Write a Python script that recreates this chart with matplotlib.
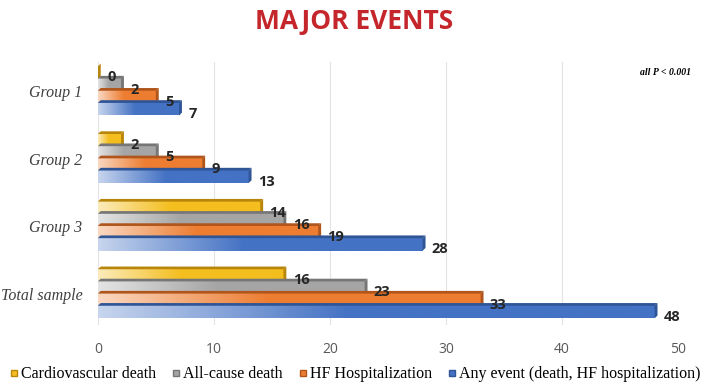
# horizontal 3D-ish bar chart of major events per group
import numpy as np
import matplotlib
matplotlib.use('Agg')
from matplotlib import pyplot as plt
from matplotlib.patches import Polygon
from matplotlib.lines import Line2D
from matplotlib.colors import to_rgb

groups = ['Group 1', 'Group 2', 'Group 3', 'Total sample']
series = ['Cardiovascular death', 'All-cause death', 'HF Hospitalization',
          'Any event (death, HF hospitalization)']
cv_death = [0, 2, 14, 16]
all_death = [2, 5, 16, 23]
hf_hosp = [5, 9, 19, 33]
any_event = [7, 13, 28, 48]

colors = ['#F4BE1E', '#A5A5A5', '#ED7D31', '#4472C4']
dark = ['#B8860B', '#767676', '#B0561C', '#2F5597']
values = [cv_death, all_death, hf_hosp, any_event]

fig = plt.figure(figsize=(7.09, 3.84), dpi=100)
ax = fig.add_axes([0.138, 0.154, 0.818, 0.685])

h = 0.185
offsets = [-0.27, -0.09, 0.09, 0.27]
dx, dy = 0.25, 0.04


def gradient(c):
    c = np.array(to_rgb(c))
    t = np.linspace(0, 1, 200)
    w = np.clip(t / 0.45, 0, 1)[:, None]
    light = 0.3 * c + 0.7 * np.ones(3)
    return (light * (1 - w) + c * w)[None, :, :]


for s in range(4):
    for g in range(4):
        v = values[s][g]
        y = g + offsets[s]
        if v > 0:
            ax.imshow(gradient(colors[s]), extent=(0, v, y + h / 2, y - h / 2),
                      aspect='auto', zorder=2 + s)
        # top face and side face for the 3D look
        top = Polygon([(0, y - h / 2), (v, y - h / 2), (v + dx, y - h / 2 - dy),
                       (dx, y - h / 2 - dy)], closed=True, fc=dark[s], ec='none',
                      zorder=2 + s)
        side = Polygon([(v, y - h / 2), (v + dx, y - h / 2 - dy),
                        (v + dx, y + h / 2 - dy), (v, y + h / 2)], closed=True,
                       fc=dark[s], ec='none', zorder=2 + s)
        ax.add_patch(top)
        ax.add_patch(side)
        ax.text(v + 0.8, y + 0.07, str(v), ha='left', va='center',
                fontsize=10.5, fontweight='bold', color='#262626',
                family='Open Sans', zorder=10)

ax.set_xlim(0, 50)
ax.set_ylim(3.46, -0.43)
ax.set_xticks(range(0, 51, 10))
ax.set_yticks(range(4))
ax.set_yticklabels(groups, family='Liberation Serif', style='italic',
                   fontsize=11.5, color='#404040')
ax.tick_params(axis='y', length=0, pad=11)
ax.tick_params(axis='x', length=0, pad=12, labelsize=10, labelcolor='#595959')
for lab in ax.get_xticklabels():
    lab.set_family('Open Sans')
ax.grid(axis='x', color='#E3E3E3', linewidth=0.8, zorder=0)
ax.set_axisbelow(True)
for sp in ax.spines.values():
    sp.set_visible(False)

fig.text(0.5, 0.945, 'MAJOR EVENTS', ha='center', va='center', fontsize=19,
         fontweight='bold', color='#C4262B', family='Open Sans')
fig.text(0.975, 0.81, 'all P < 0.001', ha='right', va='center', fontsize=7,
         fontweight='bold', style='italic', family='Liberation Serif', color='black')

handles = [Line2D([], [], marker='s', linestyle='none', markersize=5,
                  markerfacecolor=colors[i], markeredgecolor=dark[i]) for i in range(4)]
fig.legend(handles, series, loc='center', bbox_to_anchor=(0.5, 0.025), ncol=4,
           frameon=False, prop={'family': 'Liberation Serif', 'size': 11.5},
           handletextpad=0.1, columnspacing=0.9, handlelength=0.7)

fig.savefig('out.png', dpi=100)
